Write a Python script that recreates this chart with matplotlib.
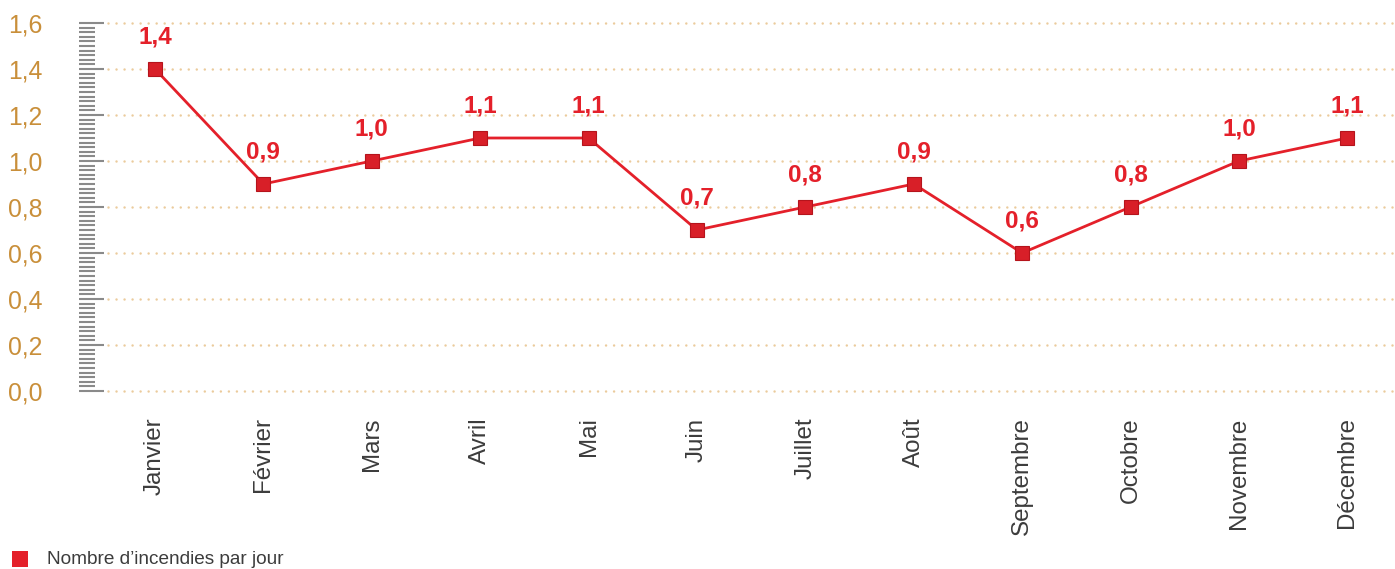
import matplotlib
matplotlib.use("Agg")
import matplotlib.pyplot as plt
import matplotlib.ticker as plticker
from matplotlib.patches import Rectangle

plt.rcParams['font.family'] = ['Liberation Sans', 'DejaVu Sans']

months = ["Janvier", "Février", "Mars", "Avril", "Mai", "Juin", "Juillet",
          "Août", "Septembre", "Octobre", "Novembre", "Décembre"]
fires_per_day = [1.4, 0.9, 1.0, 1.1, 1.1, 0.7, 0.8, 0.9, 0.6, 0.8, 1.0, 1.1]
legend_label = "Nombre d\u2019incendies par jour"

red = "#E4202A"
gold = "#C98F3A"
grid_col = "#EBCB9C"
tick_grey = "#8A8A8A"

fig = plt.figure(figsize=(13.95, 5.69), dpi=100)
ax = fig.add_axes([108 / 1395, 178 / 569, 1287 / 1395, 368 / 569])

x = list(range(len(months)))
ax.plot(x, fires_per_day, color=red, linewidth=2, zorder=3)
ax.plot(x, fires_per_day, linestyle="none", marker="s", markersize=10,
        markerfacecolor="#D81F28", markeredgecolor="#B5141C", markeredgewidth=0.8, zorder=4)

for xi, v in zip(x, fires_per_day):
    ax.annotate(f"{v:.1f}".replace(".", ","), (xi, v), xytext=(0, 15),
                textcoords="offset points", ha="center", va="bottom",
                color=red, fontsize=17.5, fontweight="bold", zorder=5)

ax.set_xlim(-0.434, 11.44)
ax.set_ylim(0, 1.6)

# dotted gridlines
for yv in [0.0, 0.2, 0.4, 0.6, 0.8, 1.0, 1.2, 1.4, 1.6]:
    ax.axhline(yv, color=grid_col, linewidth=1.8, linestyle=(0, (0.01, 3.2)),
               dash_capstyle="round", clip_on=False, zorder=1)

for s in ["top", "right", "bottom"]:
    ax.spines[s].set_visible(False)
ax.spines["left"].set_position(("outward", 21))
ax.spines["left"].set_color("none")

ax.yaxis.set_major_locator(plticker.MultipleLocator(0.2))
ax.yaxis.set_minor_locator(plticker.MultipleLocator(0.02))
ax.yaxis.set_major_formatter(plticker.FuncFormatter(lambda v, p: f"{v:.1f}".replace(".", ",")))
ax.tick_params(axis="y", which="major", direction="in", length=18, width=1.5,
               color=tick_grey, labelcolor=gold, labelsize=17.8, pad=26.5)
ax.tick_params(axis="y", which="minor", direction="in", length=11.5, width=1.5,
               color=tick_grey)

ax.set_xticks(x)
ax.set_xticklabels(months, rotation=90, fontsize=17.4, color="#3C3C3C")
ax.tick_params(axis="x", length=0, pad=19)

# legend
fig.patches.append(Rectangle((12 / 1395, 2 / 569), 16 / 1395, 16 / 569,
                             transform=fig.transFigure, facecolor=red, edgecolor="none"))
fig.text(47 / 1395, 10 / 569, legend_label, fontsize=13.7, color="#3C3C3C",
         va="center", ha="left")

fig.savefig("out.png", dpi=100)
